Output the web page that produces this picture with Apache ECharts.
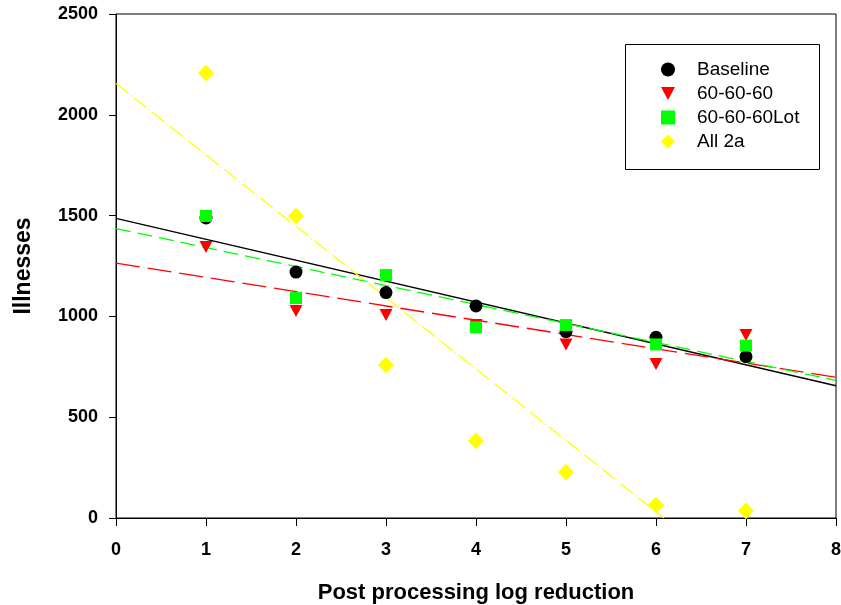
<!DOCTYPE html>
<html>
<head>
<meta charset="utf-8">
<script src="https://cdn.jsdelivr.net/npm/echarts@6/dist/echarts.min.js"></script>
<style>
  html, body { margin: 0; padding: 0; background: #fff; }
  #chart { width: 841px; height: 605px; }
</style>
</head>
<body>
<div id="chart"></div>
<script>
// Post processing log reduction (x) vs. illnesses (y)
const logReduction = [1, 2, 3, 4, 5, 6, 7];
const baseline     = [1488, 1220, 1118, 1052, 924, 896, 800];
const s606060      = [1344, 1027, 1007, 957, 861, 764, 908];
const s606060Lot   = [1498, 1091, 1205, 946, 957, 861, 855];
const all2a        = [2207, 1498, 759, 383, 227, 64, 36];
const xTicks = [0, 1, 2, 3, 4, 5, 6, 7, 8];
const yTicks = [0, 500, 1000, 1500, 2000, 2500];

const FONT = '"Liberation Sans", Arial, sans-serif';

// least-squares line through (x, y), returned as two end points inside [0, 8] x [0, 2500]
function fitLine(xs, ys) {
  const n = xs.length;
  const mx = xs.reduce((a, b) => a + b, 0) / n;
  const my = ys.reduce((a, b) => a + b, 0) / n;
  let sxy = 0, sxx = 0;
  for (let i = 0; i < n; i++) {
    sxy += (xs[i] - mx) * (ys[i] - my);
    sxx += (xs[i] - mx) * (xs[i] - mx);
  }
  const slope = sxy / sxx;
  const icpt = my - slope * mx;
  let xEnd = 8;
  if (icpt + slope * xEnd < 0) xEnd = -icpt / slope;
  return [[0, icpt], [xEnd, icpt + slope * xEnd]];
}

function pts(ys) { return logReduction.map((x, i) => [x, ys[i]]); }

const DOWN_TRIANGLE = 'path://M0,0 L12,0 L6,11 Z';

const groups = [
  { name: 'Baseline', ys: baseline, color: '#000000', symbol: 'circle', size: 13, rotate: 0, dash: 'solid', icon: 'circle' },
  { name: '60-60-60', ys: s606060, color: '#ff0000', symbol: 'triangle', size: [13, 12], rotate: 180, dash: [24, 8], icon: DOWN_TRIANGLE },
  { name: '60-60-60Lot', ys: s606060Lot, color: '#00ff00', symbol: 'rect', size: 12, rotate: 0, dash: [15, 7], icon: 'rect' },
  { name: 'All 2a', ys: all2a, color: '#ffff00', symbol: 'diamond', size: [16, 17], rotate: 0, dash: [16, 3, 1, 3], icon: 'diamond' }
];

const series = [];
groups.forEach(g => {
  series.push({
    name: g.name + ' fit',
    type: 'line',
    data: fitLine(logReduction, g.ys),
    symbol: 'none',
    silent: true,
    clip: true,
    lineStyle: { color: g.color, width: 1.3, type: g.dash },
    z: 2
  });
});
groups.forEach(g => {
  series.push({
    name: g.name,
    type: 'scatter',
    data: pts(g.ys),
    symbol: g.symbol,
    symbolSize: g.size,
    symbolRotate: g.rotate,
    itemStyle: { color: g.color, opacity: 1 },
    z: 3
  });
});

const chart = echarts.init(document.getElementById('chart'), null, { renderer: 'canvas' });
chart.setOption({
  animation: false,
  backgroundColor: '#ffffff',
  grid: {
    left: 116, right: 5, top: 14, bottom: 87,
    outerBoundsMode: 'none',
    containLabel: false,
    show: true, borderColor: '#000', borderWidth: 1, backgroundColor: 'transparent'
  },
  legend: {
    data: groups.map(g => ({ name: g.name, icon: g.icon })),
    orient: 'vertical',
    left: 656, top: 55,
    itemWidth: 14, itemHeight: 14, itemGap: 5,
    textStyle: { fontFamily: FONT, fontSize: 19, color: '#000', padding: [0, 0, 0, 17] },
    backgroundColor: 'transparent'
  },
  graphic: [{
    type: 'rect',
    shape: { x: 625.5, y: 44.5, width: 194, height: 125 },
    style: { fill: 'none', stroke: '#000', lineWidth: 1 },
    z: 1
  }],
  xAxis: {
    type: 'value', min: 0, max: 8, interval: 1,
    name: 'Post processing log reduction',
    nameLocation: 'middle', nameGap: 64,
    nameTextStyle: { fontFamily: FONT, fontSize: 22, fontWeight: 'bold', color: '#000' },
    axisLine: { show: true, onZero: false, lineStyle: { color: '#000', width: 1 } },
    axisTick: { show: true, length: 8, lineStyle: { color: '#000' } },
    axisLabel: {
      fontFamily: FONT, fontSize: 18, fontWeight: 'bold', color: '#000', margin: 23,
      formatter: v => xTicks.includes(v) ? String(v) : ''
    },
    splitLine: { show: false }
  },
  yAxis: {
    type: 'value', min: 0, max: 2500, interval: 500,
    name: 'Illnesses',
    nameLocation: 'middle', nameGap: 81, nameRotate: 90,
    nameTextStyle: { fontFamily: FONT, fontSize: 23, fontWeight: 'bold', color: '#000' },
    axisLine: { show: true, onZero: false, lineStyle: { color: '#000', width: 1 } },
    axisTick: { show: true, length: 7, lineStyle: { color: '#000' } },
    axisLabel: {
      fontFamily: FONT, fontSize: 18, fontWeight: 'bold', color: '#000', margin: 18,
      formatter: v => yTicks.includes(v) ? String(v) : ''
    },
    splitLine: { show: false }
  },
  series: series
});
</script>
</body>
</html>
